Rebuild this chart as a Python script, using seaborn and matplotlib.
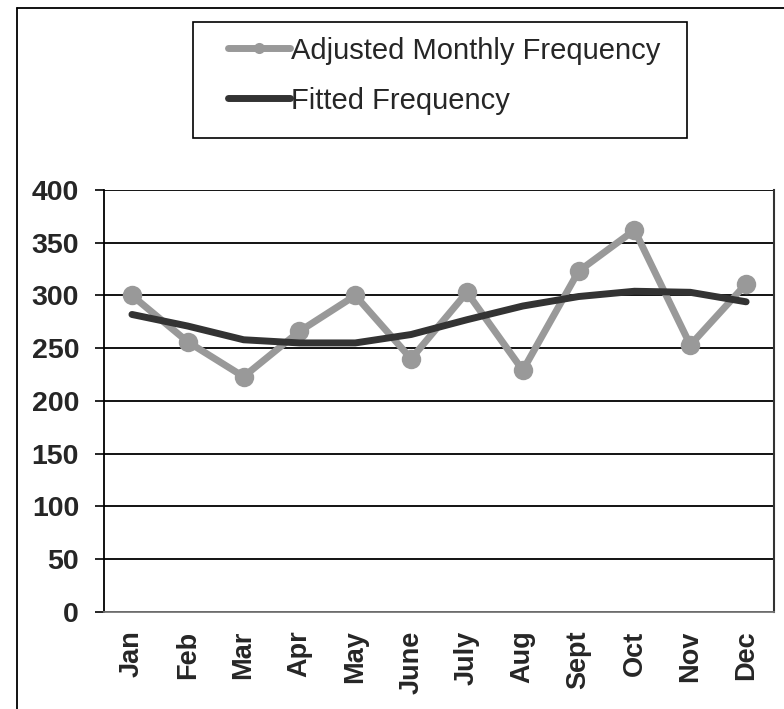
import matplotlib
matplotlib.use("Agg")
import matplotlib.pyplot as plt
import pandas as pd
import seaborn as sns
from matplotlib.lines import Line2D
from matplotlib.patches import Rectangle

months = ["Jan", "Feb", "Mar", "Apr", "May", "June", "July", "Aug", "Sept", "Oct", "Nov", "Dec"]
adjusted = [300, 256, 223, 266, 300, 240, 303, 229, 323, 362, 253, 311]
fitted = [282, 271, 258, 255, 255, 263, 277, 290, 299, 304, 303, 294]
yticks = [0, 50, 100, 150, 200, 250, 300, 350, 400]

df = pd.DataFrame({"month": months, "adjusted": adjusted, "fitted": fitted})
df["pos"] = range(len(months))

sns.set_style("white")
plt.rcParams["font.family"] = ["Liberation Sans", "DejaVu Sans"]

fig = plt.figure(figsize=(7.84, 7.09), dpi=100)
ax = fig.add_axes([0.1327, 0.137, 0.8546, 0.595])

sns.lineplot(data=df, x="pos", y="adjusted", ax=ax, color="#999999", linewidth=5,
             marker="o", markersize=14, markeredgewidth=0, label="Adjusted Monthly Frequency",
             solid_joinstyle="round", solid_capstyle="round")
sns.lineplot(data=df, x="pos", y="fitted", ax=ax, color="#333333", linewidth=5,
             label="Fitted Frequency", solid_joinstyle="round", solid_capstyle="round")

ax.set_xlim(-0.5, len(months) - 0.5)
ax.set_ylim(0, 400)
ax.set_yticks(yticks)
ax.set_yticklabels([str(v) for v in yticks], fontsize=20.5, fontweight="bold")
ax.set_xticks(df["pos"])
ax.set_xticklabels(months, rotation=90, fontsize=19.5, fontweight="bold")
ax.set_xticks([p - 0.5 for p in range(len(months) + 1)], minor=True)
ax.tick_params(axis="x", which="major", length=0, pad=13.5)
ax.tick_params(axis="x", which="minor", length=6, width=1, color="#666666", direction="out")
ax.tick_params(axis="y", length=6.5, width=1.2, color="black", direction="out", pad=11.5, left=True)
ax.set_xlabel("")
ax.set_ylabel("")
ax.grid(axis="y", color="black", linewidth=1.3)
ax.set_axisbelow(True)
ax.spines["left"].set_color("black")
ax.spines["left"].set_linewidth(1.3)
ax.spines["bottom"].set_color("#777777")
ax.spines["bottom"].set_linewidth(1.3)
ax.spines["right"].set_color("#333333")
ax.spines["right"].set_linewidth(1.5)
ax.spines["top"].set_visible(False)

handles, labels = ax.get_legend_handles_labels()
ax.get_legend().remove()
leg = fig.legend(handles, labels, loc="upper left", bbox_to_anchor=(0.269, 0.973),
                 fontsize=21, frameon=False, handlelength=2.1, handletextpad=0.05,
                 borderpad=0.6, labelspacing=0.75, borderaxespad=0)
leg.legend_handles[0].set_markersize(8)

fig.patches.append(Rectangle((0.246, 0.805), 0.630, 0.164, transform=fig.transFigure,
                             fill=False, edgecolor="black", linewidth=1.2))
# outer frame: only top and left edges are visible in the source
fig.add_artist(Line2D([0.0217, 1.0], [0.9887, 0.9887], transform=fig.transFigure,
                      color="black", linewidth=1.3))
fig.add_artist(Line2D([0.0217, 0.0217], [0.0, 0.9887], transform=fig.transFigure,
                      color="black", linewidth=1.3))

fig.savefig("out.png", dpi=100)
